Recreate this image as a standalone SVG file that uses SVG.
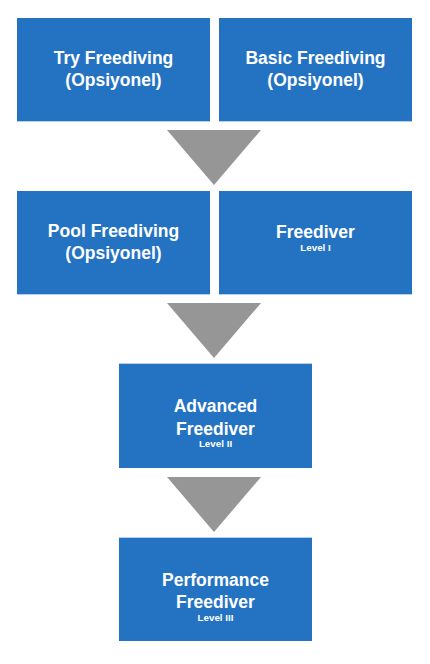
<svg xmlns="http://www.w3.org/2000/svg" width="430" height="664" viewBox="0 0 430 664">
<style>
.box{fill:#2473c3}
.edge{stroke:#b5d0ec;stroke-width:1}
.t{font-family:"Liberation Sans",Arial,Helvetica,sans-serif;font-weight:bold;fill:#fff;text-anchor:middle;font-size:17.5px}
.s{font-family:"Liberation Sans",Arial,Helvetica,sans-serif;font-weight:bold;fill:#fff;text-anchor:middle;font-size:9.8px}
.arrow{fill:#969696}
</style>
<rect width="430" height="664" fill="#fff"/>
<g id="connectors">
<polygon class="arrow" points="167,130 261,130 214,185"/>
<polygon class="arrow" points="167,303 261,303 214,358"/>
<polygon class="arrow" points="167,477 261,477 214,532"/>
</g>
<g id="try">
<rect class="box" x="17" y="18" width="193" height="103"/>
<line class="edge" x1="17" y1="121.5" x2="210" y2="121.5"/>
<text class="t" x="113.5" y="64">Try Freediving</text>
<text class="t" x="113.5" y="86">(Opsiyonel)</text>
</g>
<g id="basic">
<rect class="box" x="219" y="18" width="193" height="103"/>
<line class="edge" x1="219" y1="121.5" x2="412" y2="121.5"/>
<text class="t" x="315.5" y="64">Basic Freediving</text>
<text class="t" x="315.5" y="86">(Opsiyonel)</text>
</g>
<g id="pool">
<rect class="box" x="17" y="191" width="193" height="103"/>
<line class="edge" x1="17" y1="294.5" x2="210" y2="294.5"/>
<text class="t" x="113.5" y="237">Pool Freediving</text>
<text class="t" x="113.5" y="259">(Opsiyonel)</text>
</g>
<g id="freediver">
<rect class="box" x="219" y="191" width="193" height="103"/>
<line class="edge" x1="219" y1="294.5" x2="412" y2="294.5"/>
<text class="t" x="315.5" y="238">Freediver</text>
<text class="s" x="315.5" y="250.5">Level I</text>
</g>
<g id="advanced">
<rect class="box" x="119" y="364" width="193" height="104"/>
<line class="edge" x1="119" y1="363.5" x2="312" y2="363.5"/>
<text class="t" x="215.5" y="412">Advanced</text>
<text class="t" x="215.5" y="434.5">Freediver</text>
<text class="s" x="215.5" y="447">Level II</text>
</g>
<g id="performance">
<rect class="box" x="119" y="538" width="193" height="103"/>
<line class="edge" x1="119" y1="537.5" x2="312" y2="537.5"/>
<text class="t" x="215.5" y="586">Performance</text>
<text class="t" x="215.5" y="608">Freediver</text>
<text class="s" x="215.5" y="620.5">Level III</text>
</g>
</svg>
